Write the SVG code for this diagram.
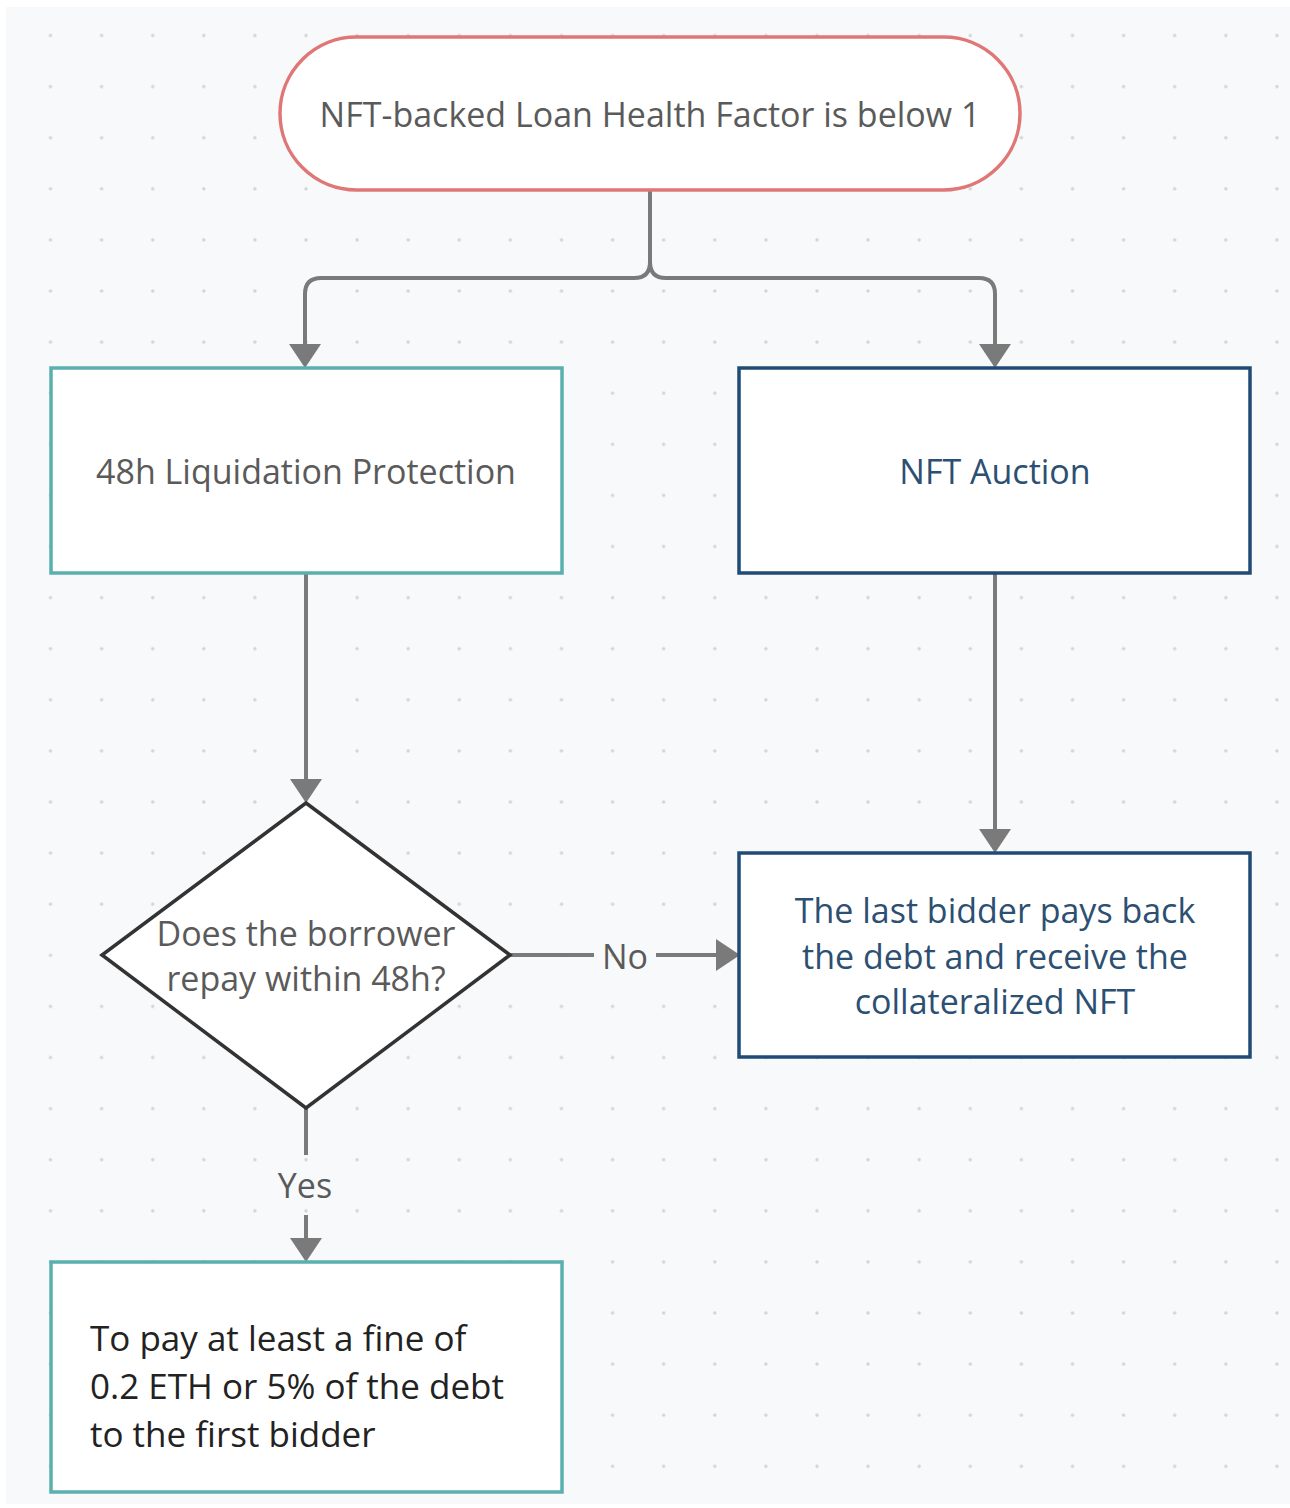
<svg xmlns="http://www.w3.org/2000/svg" width="1290" height="1508" viewBox="0 0 1290 1508">
<defs>
<pattern id="dots" x="0" y="0" width="51.1" height="51.1" patternUnits="userSpaceOnUse" patternTransform="translate(50.5 35.5)">
<circle cx="0" cy="0" r="1.7" fill="#d2d3d6"/>
<circle cx="51.1" cy="0" r="1.7" fill="#d2d3d6"/>
<circle cx="0" cy="51.1" r="1.7" fill="#d2d3d6"/>
<circle cx="51.1" cy="51.1" r="1.7" fill="#d2d3d6"/>
</pattern>
<marker id="arrow" viewBox="0 0 24 32" refX="0" refY="16" markerWidth="24" markerHeight="32" markerUnits="userSpaceOnUse" orient="auto">
<path d="M0,0 L24,16 L0,32 Z" fill="#7a7a7a"/>
</marker>
<style>
.conn{fill:none;stroke:#7a7a7a;stroke-width:4}
.t{font-family:"Open Sans","Noto Sans",sans-serif;font-size:34px;fill:#5a5a5a;text-anchor:middle}
.blue{fill:#2c4f72}
.dark{font-size:35px;fill:#222222;text-anchor:start}
.teal{fill:#ffffff;stroke:#5aafaf;stroke-width:3.5}
.navy{fill:#ffffff;stroke:#1f4b75;stroke-width:3.5}
</style>
</defs>
<rect x="0" y="0" width="1290" height="1508" fill="#ffffff"/>
<rect x="6" y="7" width="1284" height="1497" fill="#f8f9fb"/>
<rect x="6" y="7" width="1284" height="1497" fill="url(#dots)"/>

<g id="connectors">
<path class="conn" d="M650,190 V262 Q650,278 634,278 H321 Q305,278 305,294 V344" marker-end="url(#arrow)"/>
<path class="conn" d="M650,190 V262 Q650,278 666,278 H979 Q995,278 995,294 V344" marker-end="url(#arrow)"/>
<path class="conn" d="M306,573 V779" marker-end="url(#arrow)"/>
<path class="conn" d="M995,573 V829" marker-end="url(#arrow)"/>
<path class="conn" d="M510,955 H594"/>
<path class="conn" d="M656,955 H716" marker-end="url(#arrow)"/>
<text class="t" x="625" y="969">No</text>
<path class="conn" d="M306,1108 V1155"/>
<path class="conn" d="M306,1215 V1238" marker-end="url(#arrow)"/>
<text class="t" x="305" y="1198">Yes</text>
</g>

<g id="start">
<rect x="280" y="37" width="740" height="153" rx="76.5" ry="76.5" fill="#ffffff" stroke="#e07777" stroke-width="3.5"/>
<text class="t" x="650" y="127">NFT-backed Loan Health Factor is below 1</text>
</g>

<g id="protection">
<rect class="teal" x="51" y="368" width="511" height="205"/>
<text class="t" x="306" y="484">48h Liquidation Protection</text>
</g>

<g id="auction">
<rect class="navy" x="739" y="368" width="511" height="205"/>
<text class="t blue" x="995" y="484">NFT Auction</text>
</g>

<g id="decision">
<polygon points="306,803 510,955 306,1108 102,955" fill="#ffffff" stroke="#333333" stroke-width="3.5"/>
<text class="t" x="306" y="946">Does the borrower</text>
<text class="t" x="306" y="991">repay within 48h?</text>
</g>

<g id="lastbidder">
<rect class="navy" x="739" y="853" width="511" height="204"/>
<text class="t blue" x="995" y="923">The last bidder pays back</text>
<text class="t blue" x="995" y="969">the debt and receive the</text>
<text class="t blue" x="995" y="1014">collateralized NFT</text>
</g>

<g id="fine">
<rect class="teal" x="51" y="1262" width="511" height="230"/>
<text class="t dark" x="90" y="1351">To pay at least a fine of</text>
<text class="t dark" x="90" y="1399">0.2 ETH or 5% of the debt</text>
<text class="t dark" x="90" y="1447">to the first bidder</text>
</g>
</svg>
